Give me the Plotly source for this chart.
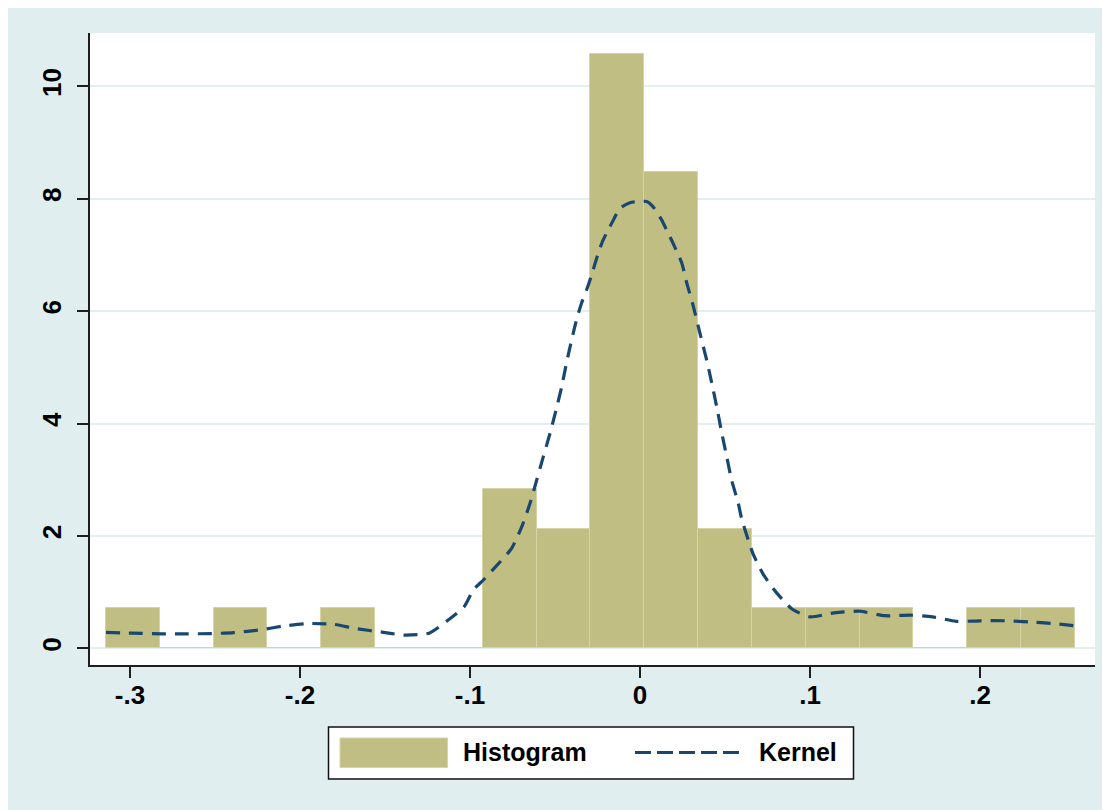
import plotly.graph_objects as go

# ---------------- data ----------------
bin_start = -0.3141
bin_width = 0.03166
hist_density = [0.71, 0, 0.71, 0, 0.71, 0, 0, 2.83, 2.12, 10.58, 8.48, 2.12,
                0.71, 0.71, 0.71, 0, 0.71, 0.71]

kernel_x = [-0.3141, -0.305, -0.293, -0.281, -0.266, -0.252, -0.239, -0.223,
            -0.210, -0.196, -0.181, -0.167, -0.151, -0.139, -0.124, -0.113,
            -0.1035, -0.098, -0.092, -0.085, -0.0755, -0.0696, -0.0647,
            -0.0608, -0.0569, -0.0529, -0.0494, -0.0461, -0.0431, -0.0402,
            -0.0369, -0.0343, -0.0314, -0.0284, -0.0247, -0.0218, -0.0188,
            -0.0157, -0.0118, -0.006, 0.0, 0.0039, 0.0076, 0.0128, 0.0157,
            0.0194, 0.0245, 0.0275, 0.0314, 0.0353, 0.0392, 0.0422, 0.0451,
            0.0481, 0.051, 0.0539, 0.0578, 0.0598, 0.0629, 0.0665, 0.0724,
            0.080, 0.0894, 0.100, 0.114, 0.129, 0.144, 0.159, 0.172, 0.186,
            0.200, 0.216, 0.229, 0.243, 0.2558]
kernel_y = [0.285, 0.275, 0.265, 0.258, 0.258, 0.262, 0.28, 0.33, 0.395, 0.44,
            0.43, 0.35, 0.285, 0.235, 0.27, 0.50, 0.74, 1.04, 1.22, 1.45,
            1.78, 2.16, 2.58, 2.99, 3.41, 3.83, 4.24, 4.65, 5.10, 5.49, 5.90,
            6.15, 6.38, 6.65, 7.02, 7.26, 7.44, 7.62, 7.83, 7.93, 7.95, 7.95,
            7.86, 7.62, 7.44, 7.21, 6.86, 6.50, 6.08, 5.60, 5.13, 4.72, 4.30,
            3.83, 3.41, 2.99, 2.58, 2.30, 2.00, 1.68, 1.32, 1.00, 0.70, 0.56,
            0.63, 0.66, 0.58, 0.59, 0.56, 0.48, 0.49, 0.49, 0.47, 0.44, 0.40]

x_tickvals = [-0.3, -0.2, -0.1, 0, 0.1, 0.2]
x_ticktext = ["-.3", "-.2", "-.1", "0", ".1", ".2"]
y_tickvals = [0, 2, 4, 6, 8, 10]
y_ticktext = ["0", "2", "4", "6", "8", "10"]
legend_labels = ["Histogram", "Kernel"]

# ---------------- styles ----------------
W, H = 1102, 802
OFF = 8  # page body margin
L, R, T, B = 82, 15, 25, 145
PW, PH = W - L - R, H - T - B
BG = "#E1EEF0"
BAR = "#C1BE84"
BAR_EDGE = "#D6D3A6"
NAVY = "#1A476F"
GRID = "#E4EEF1"
AXIS = "#1E1E1E"
FONT = "Liberation Sans, Arial, sans-serif"


def px(x):
    return (x - OFF - L) / PW


def py(y):
    return (H - B - (y - OFF)) / PH


centers = [bin_start + (i + 0.5) * bin_width for i in range(len(hist_density))]

fig = go.Figure()
fig.add_trace(go.Bar(x=centers, y=hist_density, width=bin_width,
                     marker=dict(color=BAR, line=dict(color=BAR_EDGE, width=1)),
                     name=legend_labels[0], showlegend=False))
fig.add_trace(go.Scatter(x=kernel_x, y=kernel_y, mode="lines",
                         line=dict(color=NAVY, width=3.2, dash="14px,9px", shape="spline", smoothing=0.6),
                         name=legend_labels[1], showlegend=False))

shapes = [
    # legend box
    dict(type="rect", xref="paper", yref="paper", x0=px(328.5), x1=px(853.5), y0=py(727), y1=py(779),
         fillcolor="white", line=dict(color="#111111", width=1.5), layer="above"),
    dict(type="rect", xref="paper", yref="paper", x0=px(340), x1=px(447.5), y0=py(738), y1=py(767.5),
         fillcolor=BAR, line=dict(color=BAR_EDGE, width=1), layer="above"),
    dict(type="line", xref="paper", yref="paper", x0=px(635), x1=px(743), y0=py(752.5), y1=py(752.5),
         line=dict(color=NAVY, width=3.2, dash="16px,6px"), layer="above"),
]

annotations = [
    dict(xref="paper", yref="paper", x=px(461), y=py(752), xanchor="left", yanchor="middle",
         text=legend_labels[0], showarrow=False, font=dict(family=FONT, size=25, color="black", weight="bold")),
    dict(xref="paper", yref="paper", x=px(757), y=py(752), xanchor="left", yanchor="middle",
         text=legend_labels[1], showarrow=False, font=dict(family=FONT, size=25, color="black", weight="bold")),
]

fig.update_layout(
    width=W, height=H,
    margin=dict(l=L, r=R, t=T, b=B, pad=0),
    paper_bgcolor=BG, plot_bgcolor="white",
    bargap=0, showlegend=False,
    shapes=shapes, annotations=annotations,
    xaxis=dict(range=[-0.3235, 0.2676], tickvals=x_tickvals, ticktext=x_ticktext,
               showgrid=False, zeroline=False, showline=True, linecolor=AXIS, linewidth=1.5,
               ticks="outside", ticklen=11, tickwidth=1.5, tickcolor=AXIS, ticklabelstandoff=-5,
               tickfont=dict(family=FONT, size=26, color="black", weight="bold")),
    yaxis=dict(range=[-0.297, 10.95], tickvals=y_tickvals, ticktext=y_ticktext,
               showgrid=True, gridcolor=GRID, gridwidth=2,
               zeroline=True, zerolinecolor=GRID, zerolinewidth=2,
               showline=True, linecolor=AXIS, linewidth=1.5,
               ticks="outside", ticklen=11, tickwidth=1.5, tickcolor=AXIS, tickangle=-90,
               ticklabelstandoff=6,
               tickfont=dict(family=FONT, size=26, color="black", weight="bold")),
)

fig.write_html("out.html")
